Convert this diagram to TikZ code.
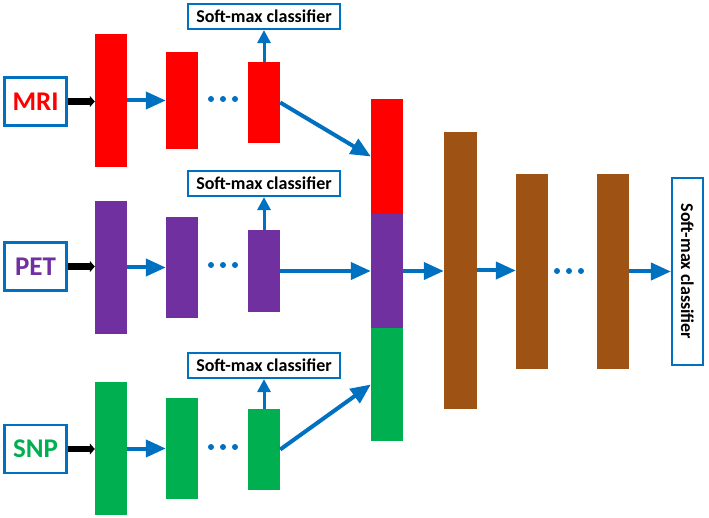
\documentclass[tikz,border=0pt]{standalone}
\usepackage{fontspec}
\setmainfont{Carlito}
\usetikzlibrary{arrows.meta}
\definecolor{cblue}{RGB}{0,112,192}
\definecolor{cred}{RGB}{255,0,0}
\definecolor{cpurple}{RGB}{112,48,160}
\definecolor{cgreen}{RGB}{0,176,80}
\definecolor{cbrown}{RGB}{158,82,20}
\tikzset{
  layer/.style={fill=#1, draw=none, inner sep=0pt, minimum width=32pt},
  inbox/.style={draw=cblue, line width=2.5pt, fill=white, minimum width=62pt, minimum height=48pt, inner sep=0pt, font=\bfseries\fontsize{27}{29}\selectfont},
  smbox/.style={draw=cblue, line width=2.2pt, fill=white, minimum width=152pt, minimum height=25pt, inner sep=0pt, font=\bfseries\fontsize{18}{20}\selectfont},
  barrow/.style={draw=cblue, line width=4pt, -{Triangle[length=20pt,width=17pt]}},
  uparrow/.style={draw=cblue, line width=3pt, -{Triangle[length=13pt,width=13pt]}},
  blkarrow/.style={draw=black, line width=6.5pt, -{Triangle[length=5pt,width=11pt]}},
  dotc/.style={fill=cblue, draw=none, circle, inner sep=0pt, minimum size=6pt}
}
\begin{document}
\begin{tikzpicture}[x=1pt,y=-1pt]
\useasboundingbox (0,0) rectangle (709,518);
% inputs
\node[inbox, text=cred] (mri) at (35.5,101.5) {MRI};
\node[inbox, text=cpurple] (pet) at (35.5,266.5) {PET};
\node[inbox, text=cgreen] (snp) at (35.5,449) {SNP};
% MRI branch
\node[layer=cred, minimum height=133pt] (m1) at (111,100.5) {};
\node[layer=cred, minimum height=97pt] (m2) at (182,100.5) {};
\node[layer=cred, minimum height=81pt] (m3) at (264,102.5) {};
\node[smbox] (sm1) at (264,16.5) {Soft-max classifier};
% PET branch
\node[layer=cpurple, minimum height=133pt] (p1) at (111,267.5) {};
\node[layer=cpurple, minimum height=101pt] (p2) at (182,267.5) {};
\node[layer=cpurple, minimum height=82pt] (p3) at (264,271) {};
\node[smbox] (sm2) at (264,183.5) {Soft-max classifier};
% SNP branch
\node[layer=cgreen, minimum height=133pt] (s1) at (111,448.5) {};
\node[layer=cgreen, minimum height=101pt] (s2) at (182,448.5) {};
\node[layer=cgreen, minimum height=81pt] (s3) at (264,449.5) {};
\node[smbox] (sm3) at (264,365.5) {Soft-max classifier};
% concatenated
\node[layer=cred, minimum height=115pt] (cr) at (387,156.5) {};
\node[layer=cpurple, minimum height=114pt] (cp) at (387,271) {};
\node[layer=cgreen, minimum height=113pt] (cg) at (387,384.5) {};
% joint layers
\node[layer=cbrown, minimum width=33pt, minimum height=277pt] (b1) at (460.5,270.5) {};
\node[layer=cbrown, minimum height=195pt] (b2) at (532,271.5) {};
\node[layer=cbrown, minimum height=195pt] (b3) at (613,271.5) {};
\node[draw=cblue, line width=2.2pt, fill=white, minimum width=31pt, minimum height=187pt, inner sep=0pt] (sm4) at (687.5,271.5) {};
\node[rotate=-90, font=\bfseries\fontsize{18}{20}\selectfont] (sm4t) at (sm4.center) {Soft-max classifier};
% input arrows
\draw[blkarrow] (mri.east) -- (mri.east -| m1.west);
\draw[blkarrow] (pet.east) -- (pet.east -| p1.west);
\draw[blkarrow] (snp.east) -- (snp.east -| s1.west);
% branch arrows
\draw[barrow] (m1.east) -- (m2.west);
\draw[barrow] (p1.east) -- (p2.west);
\draw[barrow] (s1.east) -- (s2.west);
\draw[uparrow] (m3.north) -- (sm1.south);
\draw[uparrow] (p3.north) -- (sm2.south);
\draw[uparrow] (s3.north) -- (sm3.south);
\draw[barrow] (m3.east) -- (cr.west);
\draw[barrow] (p3.east) -- (cp.west);
\draw[barrow] (s3.east) -- (cg.west);
\draw[barrow] (cp.east) -- (cp.east -| b1.west);
\draw[barrow] (b1.east) -- (b1.east -| b2.west);
\draw[barrow] (b3.east) -- (b3.east -| sm4.west);
% dots
\foreach \r/\y in {m/99,p/265,s/447}{
  \node[dotc] (\r d1) at (211,\y) {};
  \node[dotc] (\r d2) at (223,\y) {};
  \node[dotc] (\r d3) at (235,\y) {};
}
\node[dotc] (jd1) at (557,271) {};
\node[dotc] (jd2) at (569,271) {};
\node[dotc] (jd3) at (581,271) {};
\end{tikzpicture}
\end{document}
